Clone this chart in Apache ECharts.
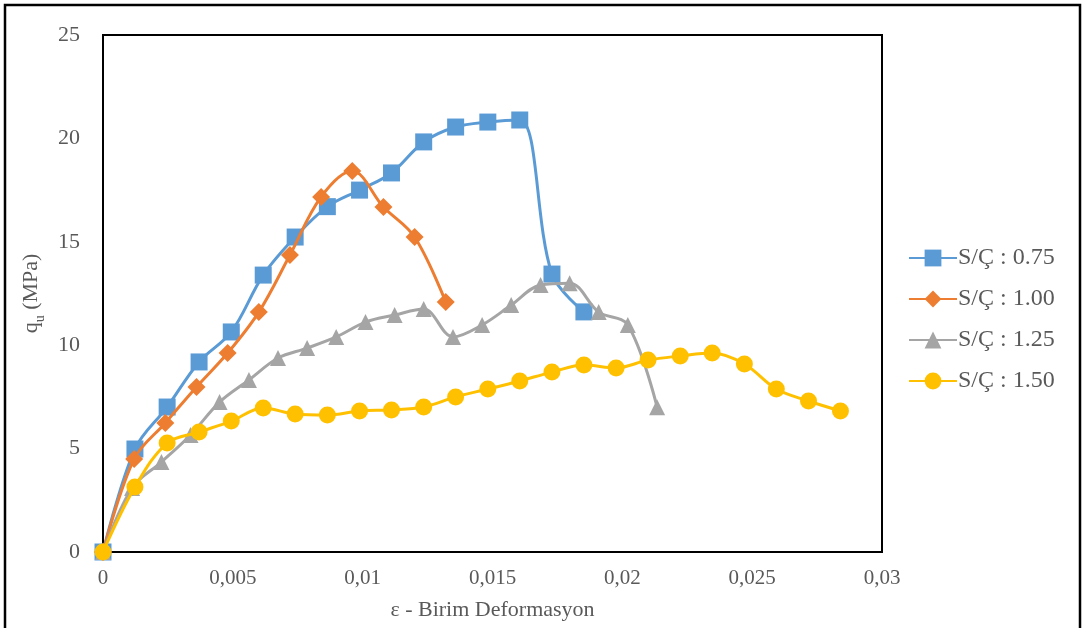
<!DOCTYPE html>
<html>
<head>
<meta charset="utf-8">
<script src="https://cdn.jsdelivr.net/npm/echarts@6/dist/echarts.min.js"></script>
<style>
  html, body { margin: 0; padding: 0; background: #fff; }
  #chart { width: 1083px; height: 628px; }
</style>
</head>
<body>
<div id="chart"></div>
<script>
// Strain (ε) values for each specimen series
const strain075 = [0, 0.00123, 0.00247, 0.0037, 0.00494, 0.00617, 0.0074, 0.00864, 0.00988, 0.01111, 0.01235, 0.01358, 0.01482, 0.01605, 0.01729, 0.01852];
const strain100 = [0, 0.0012, 0.0024, 0.0036, 0.0048, 0.006, 0.0072, 0.0084, 0.0096, 0.0108, 0.012, 0.0132];
const strain125 = [0, 0.00112, 0.00225, 0.00337, 0.00449, 0.00562, 0.00674, 0.00786, 0.00898, 0.01011, 0.01123, 0.01235, 0.01348, 0.0146, 0.01572, 0.01685, 0.01797, 0.01909, 0.02021, 0.02134];
const strain150 = [0, 0.00123, 0.00247, 0.0037, 0.00494, 0.00617, 0.0074, 0.00864, 0.00988, 0.01111, 0.01235, 0.01358, 0.01482, 0.01605, 0.01729, 0.01852, 0.01976, 0.02099, 0.02223, 0.02346, 0.0247, 0.02593, 0.02717, 0.0284];

// Unconfined compressive strength q_u (MPa)
const qu075 = [0, 4.98, 7.01, 9.19, 10.64, 13.39, 15.23, 16.7, 17.5, 18.33, 19.83, 20.55, 20.79, 20.89, 13.44, 11.61];
const qu100 = [0, 4.5, 6.24, 7.98, 9.62, 11.6, 14.36, 17.17, 18.42, 16.68, 15.23, 12.09];
const qu125 = [0, 3.1, 4.35, 5.66, 7.25, 8.32, 9.38, 9.86, 10.4, 11.12, 11.46, 11.75, 10.4, 10.98, 11.94, 12.91, 13.0, 11.6, 10.98, 7.0];
const qu150 = [0, 3.14, 5.27, 5.8, 6.33, 6.96, 6.67, 6.62, 6.82, 6.87, 7.01, 7.5, 7.88, 8.27, 8.7, 9.04, 8.9, 9.28, 9.48, 9.62, 9.09, 7.88, 7.3, 6.82];

const seriesNames = ['S/Ç : 0.75', 'S/Ç : 1.00', 'S/Ç : 1.25', 'S/Ç : 1.50'];
const xTicks = ['0', '0,005', '0,01', '0,015', '0,02', '0,025', '0,03'];

const pair = (xs, ys) => xs.map((x, i) => [x, ys[i]]);

const FONT = '"Liberation Serif", "Times New Roman", serif';
const TXT = '#595959';

const styles = [
  { color: '#5B9BD5', symbol: 'rect', size: 17 },
  { color: '#ED7D31', symbol: 'diamond', size: 18 },
  { color: '#A5A5A5', symbol: 'triangle', size: 16 },
  { color: '#FFC000', symbol: 'circle', size: 17 }
];
const datasets = [pair(strain075, qu075), pair(strain100, qu100), pair(strain125, qu125), pair(strain150, qu150)];

const chart = echarts.init(document.getElementById('chart'), null, { renderer: 'canvas' });

chart.setOption({
  animation: false,
  backgroundColor: '#fff',
  graphic: [{
    type: 'rect',
    shape: { x: 5, y: 5, width: 1075, height: 640 },
    style: { fill: 'none', stroke: '#000', lineWidth: 2.5 },
    silent: true
  }],
  grid: {
    left: 103, right: 201, top: 35, bottom: 76,
    show: true, borderColor: '#000', borderWidth: 2, backgroundColor: 'transparent'
  },
  legend: {
    orient: 'vertical',
    left: 903, top: 241,
    itemWidth: 48, itemHeight: 21, itemGap: 17,
    textStyle: { fontFamily: FONT, fontSize: 24, color: TXT, padding: [0, 0, 0, -4] },
    data: seriesNames
  },
  xAxis: {
    type: 'value', min: 0, max: 0.03, interval: 0.005,
    axisLine: { show: false }, axisTick: { show: false }, splitLine: { show: false },
    axisLabel: {
      fontFamily: FONT, fontSize: 21, color: TXT, margin: 16,
      formatter: (v) => xTicks[Math.round(v / 0.005)]
    },
    name: 'ε - Birim Deformasyon',
    nameLocation: 'middle', nameGap: 47,
    nameTextStyle: { fontFamily: FONT, fontSize: 22, color: TXT }
  },
  yAxis: {
    type: 'value', min: 0, max: 25, interval: 5,
    axisLine: { show: false }, axisTick: { show: false }, splitLine: { show: false },
    axisLabel: { fontFamily: FONT, fontSize: 22, color: TXT, margin: 23 },
    name: '{q|q}{u|u}{q| (MPa)}',
    nameLocation: 'middle', nameRotate: 90, nameGap: 60,
    nameTextStyle: {
      fontFamily: FONT, color: TXT,
      rich: {
        q: { fontFamily: FONT, fontSize: 22, color: TXT, verticalAlign: 'bottom', lineHeight: 26 },
        u: { fontFamily: FONT, fontSize: 14, color: TXT, verticalAlign: 'bottom', lineHeight: 26, padding: [0, 0, -5, 0] }
      }
    }
  },
  series: datasets.map((d, i) => ({
    name: seriesNames[i],
    type: 'line',
    data: d,
    smooth: 0.35,
    symbol: styles[i].symbol,
    symbolSize: styles[i].size,
    lineStyle: { color: styles[i].color, width: 3 },
    itemStyle: { color: styles[i].color },
    z: 2 + i
  }))
});
</script>
</body>
</html>
